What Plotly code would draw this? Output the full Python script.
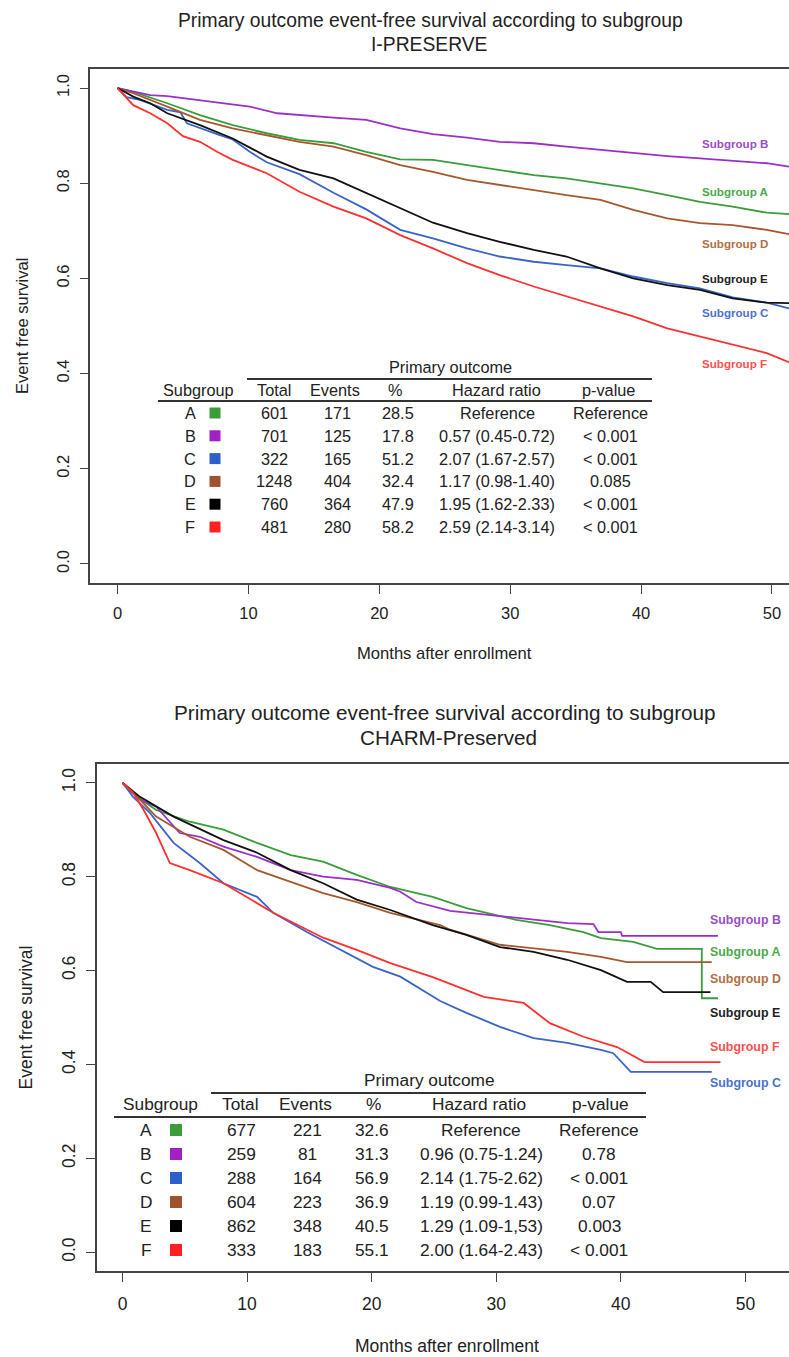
import plotly.graph_objects as go

W, H = 789, 1357

# ---------------- Data: I-PRESERVE (top panel) ----------------
ip_a_t = [0, 1.2, 3.8, 6.3, 8.8, 11.4, 13.9, 16.5, 19.0, 21.6, 24.1, 26.7, 29.2, 31.8, 34.3, 36.9, 39.4, 42.0, 44.5, 47.0, 49.6, 51.3]
ip_a_s = [1.0, 0.992, 0.968, 0.943, 0.922, 0.905, 0.891, 0.884, 0.866, 0.850, 0.849, 0.838, 0.828, 0.817, 0.810, 0.800, 0.789, 0.775, 0.761, 0.751, 0.738, 0.735]
ip_b_t = [0, 2.5, 3.8, 7.6, 10.1, 12.2, 13.9, 16.5, 19.0, 21.6, 24.1, 26.7, 29.2, 31.8, 34.3, 36.9, 39.4, 42.0, 44.5, 47.0, 49.6, 51.3]
ip_b_s = [1.0, 0.985, 0.983, 0.969, 0.961, 0.947, 0.943, 0.938, 0.933, 0.915, 0.903, 0.896, 0.887, 0.884, 0.877, 0.870, 0.863, 0.857, 0.852, 0.847, 0.842, 0.835]
ip_c_t = [0, 0.7, 1.7, 3.8, 4.8, 5.3, 7.6, 8.8, 10.1, 11.4, 13.9, 16.5, 19.0, 21.6, 24.1, 26.7, 29.2, 31.8, 34.3, 36.9, 39.4, 42.0, 44.5, 47.0, 49.6, 51.3]
ip_c_s = [1.0, 0.981, 0.975, 0.954, 0.949, 0.926, 0.903, 0.892, 0.866, 0.844, 0.819, 0.780, 0.745, 0.702, 0.684, 0.663, 0.646, 0.635, 0.628, 0.621, 0.604, 0.590, 0.579, 0.560, 0.549, 0.537]
ip_d_t = [0, 1.2, 3.8, 6.3, 8.8, 11.4, 13.9, 16.5, 19.0, 21.6, 24.1, 26.7, 29.2, 31.8, 34.3, 36.9, 39.4, 42.0, 44.5, 47.0, 49.6, 51.3]
ip_d_s = [1.0, 0.989, 0.961, 0.933, 0.915, 0.901, 0.887, 0.877, 0.859, 0.838, 0.824, 0.807, 0.796, 0.786, 0.775, 0.765, 0.744, 0.726, 0.716, 0.712, 0.702, 0.693]
ip_e_t = [0, 1.2, 2.5, 3.8, 6.3, 8.8, 11.4, 13.9, 16.5, 19.0, 21.6, 24.1, 26.7, 29.2, 31.8, 34.3, 36.9, 39.4, 42.0, 44.5, 47.0, 49.6, 51.3]
ip_e_s = [1.0, 0.982, 0.968, 0.947, 0.922, 0.894, 0.856, 0.828, 0.810, 0.779, 0.747, 0.717, 0.695, 0.677, 0.660, 0.646, 0.621, 0.600, 0.586, 0.576, 0.558, 0.549, 0.548]
ip_f_t = [0, 1.2, 2.5, 3.8, 5.0, 6.3, 7.6, 8.8, 11.4, 13.9, 16.5, 19.0, 21.6, 24.1, 26.7, 29.2, 31.8, 34.3, 36.9, 39.4, 42.0, 44.5, 47.0, 49.6, 51.3]
ip_f_s = [1.0, 0.964, 0.947, 0.926, 0.899, 0.887, 0.866, 0.849, 0.821, 0.782, 0.751, 0.726, 0.691, 0.663, 0.632, 0.607, 0.583, 0.562, 0.541, 0.520, 0.495, 0.478, 0.460, 0.443, 0.424]

# ---------------- Data: CHARM-Preserved (bottom panel) ----------------
ch_a_t = [0, 1.4, 2.7, 5.4, 8.1, 10.8, 13.5, 16.1, 18.8, 21.5, 23.6, 24.9, 27.6, 31.6, 34.3, 37.0, 38.4, 41.0, 42.9, 46.5, 46.5, 47.8]
ch_a_s = [1.0, 0.966, 0.942, 0.917, 0.900, 0.872, 0.846, 0.832, 0.804, 0.778, 0.765, 0.757, 0.733, 0.708, 0.697, 0.682, 0.669, 0.661, 0.646, 0.646, 0.541, 0.541]
ch_b_t = [0, 1.4, 2.7, 4.6, 6.2, 8.1, 10.8, 13.5, 16.1, 18.8, 21.5, 22.3, 23.6, 26.3, 30.3, 33.0, 35.7, 37.8, 38.2, 40.0, 40.1, 47.8]
ch_b_s = [1.0, 0.964, 0.949, 0.893, 0.885, 0.864, 0.842, 0.814, 0.800, 0.793, 0.776, 0.768, 0.746, 0.727, 0.716, 0.708, 0.701, 0.699, 0.682, 0.682, 0.674, 0.674]
ch_c_t = [0, 0.85, 2.2, 4.1, 6.2, 8.1, 10.8, 12.1, 14.8, 17.5, 20.1, 22.3, 25.5, 27.6, 30.3, 33.0, 35.7, 38.4, 39.4, 40.8, 47.3]
ch_c_s = [1.0, 0.970, 0.936, 0.872, 0.829, 0.786, 0.757, 0.723, 0.682, 0.644, 0.608, 0.587, 0.535, 0.510, 0.480, 0.456, 0.446, 0.431, 0.424, 0.384, 0.384]
ch_d_t = [0, 1.4, 2.7, 5.4, 8.1, 10.8, 13.5, 16.1, 18.8, 21.5, 25.5, 26.3, 30.3, 33.0, 35.7, 38.4, 40.5, 47.3]
ch_d_s = [1.0, 0.964, 0.928, 0.885, 0.857, 0.814, 0.789, 0.765, 0.746, 0.723, 0.697, 0.687, 0.655, 0.648, 0.640, 0.629, 0.618, 0.618]
ch_e_t = [0, 1.4, 4.1, 8.1, 10.8, 13.5, 16.1, 18.8, 21.5, 24.9, 27.6, 30.3, 33.0, 35.7, 38.4, 40.5, 42.4, 43.4, 47.2]
ch_e_s = [1.0, 0.970, 0.928, 0.878, 0.851, 0.814, 0.786, 0.751, 0.729, 0.697, 0.676, 0.650, 0.640, 0.623, 0.601, 0.576, 0.576, 0.554, 0.554]
ch_f_t = [0, 0.85, 1.7, 2.7, 3.8, 5.4, 8.1, 9.4, 12.1, 16.1, 18.8, 21.5, 24.9, 29.0, 32.2, 34.3, 37.0, 39.7, 41.9, 48.0]
ch_f_s = [1.0, 0.979, 0.942, 0.893, 0.829, 0.814, 0.786, 0.765, 0.723, 0.670, 0.644, 0.616, 0.586, 0.544, 0.531, 0.488, 0.459, 0.437, 0.405, 0.405]

# ---------------- Table data ----------------
subgroups = ["A", "B", "C", "D", "E", "F"]
col_headers = ["Subgroup", "Total", "Events", "%", "Hazard ratio", "p-value"]
ip_total = ["601", "701", "322", "1248", "760", "481"]
ip_events = ["171", "125", "165", "404", "364", "280"]
ip_pct = ["28.5", "17.8", "51.2", "32.4", "47.9", "58.2"]
ip_hr = ["Reference", "0.57 (0.45-0.72)", "2.07 (1.67-2.57)", "1.17 (0.98-1.40)", "1.95 (1.62-2.33)", "2.59 (2.14-3.14)"]
ip_p = ["Reference", "< 0.001", "< 0.001", "0.085", "< 0.001", "< 0.001"]
ch_total = ["677", "259", "288", "604", "862", "333"]
ch_events = ["221", "81", "164", "223", "348", "183"]
ch_pct = ["32.6", "31.3", "56.9", "36.9", "40.5", "55.1"]
ch_hr = ["Reference", "0.96 (0.75-1.24)", "2.14 (1.75-2.62)", "1.19 (0.99-1.43)", "1.29 (1.09-1,53)", "2.00 (1.64-2.43)"]
ch_p = ["Reference", "0.78", "< 0.001", "0.07", "0.003", "< 0.001"]

x_ticks = [0, 10, 20, 30, 40, 50]
y_ticks = [0.0, 0.2, 0.4, 0.6, 0.8, 1.0]
y_tick_text = ["0.0", "0.2", "0.4", "0.6", "0.8", "1.0"]

# ---------------- Styles ----------------
curve_col = {"A": "#3a9d3a", "B": "#9b30c8", "C": "#3a64c8", "D": "#a5582e", "E": "#111111", "F": "#ff3030"}
label_col = {"A": "#4caa4c", "B": "#9b4fc4", "C": "#4a72d0", "D": "#b07045", "E": "#222222", "F": "#ff5050"}
key_col = {"A": "#3a9d3a", "B": "#a020c0", "C": "#2d5fc8", "D": "#a0522d", "E": "#000000", "F": "#ff2020"}
FONT = "Liberation Sans, Arial, Helvetica, sans-serif"
TXT = "#222222"
AX = "#444444"


def px(x):
    return x / W


def py(y):
    return 1 - y / H


fig = go.Figure()

top_series = [("A", ip_a_t, ip_a_s), ("B", ip_b_t, ip_b_s), ("C", ip_c_t, ip_c_s),
              ("D", ip_d_t, ip_d_s), ("E", ip_e_t, ip_e_s), ("F", ip_f_t, ip_f_s)]
bot_series = [("A", ch_a_t, ch_a_s), ("B", ch_b_t, ch_b_s), ("C", ch_c_t, ch_c_s),
              ("D", ch_d_t, ch_d_s), ("E", ch_e_t, ch_e_s), ("F", ch_f_t, ch_f_s)]

for g, t, s in top_series:
    fig.add_trace(go.Scatter(x=t, y=s, mode="lines", xaxis="x", yaxis="y",
                             line=dict(color=curve_col[g], width=1.8), hoverinfo="skip"))
for g, t, s in bot_series:
    fig.add_trace(go.Scatter(x=t, y=s, mode="lines", xaxis="x2", yaxis="y2",
                             line=dict(color=curve_col[g], width=1.8), hoverinfo="skip"))

# Panel geometry (pixels)
top_box = dict(l=90.3, t=69, b=583)
bot_box = dict(l=96.6, t=764, b=1271)


def xaxis_style(domain_l, rng, fsize, standoff):
    return dict(domain=[px(domain_l), 1], range=rng, tickvals=x_ticks, ticks="outside", ticklen=9,
                tickwidth=1.3, tickcolor=AX, showline=True, linecolor=AX, linewidth=1.6, mirror=True,
                showgrid=False, zeroline=False, tickfont=dict(size=fsize, color=TXT, family=FONT),
                ticklabelstandoff=standoff, fixedrange=True)


def yaxis_style(top, bottom, fsize):
    return dict(domain=[py(bottom), py(top)], range=[-0.04, 1.04], tickvals=y_ticks, ticktext=y_tick_text,
                tickangle=-90, ticks="outside", ticklen=9, tickwidth=1.3, tickcolor=AX, showline=True,
                linecolor=AX, linewidth=1.6, mirror=False, showgrid=False, zeroline=False,
                tickfont=dict(size=fsize, color=TXT, family=FONT), ticklabelstandoff=4, fixedrange=True)


fig.update_layout(
    width=W, height=H, margin=dict(l=0, r=0, t=0, b=0),
    paper_bgcolor="white", plot_bgcolor="rgba(0,0,0,0)", showlegend=False,
    font=dict(family=FONT, color=TXT),
    xaxis=dict(anchor="y", **xaxis_style(top_box["l"], [-2.08, 51.3], 16.5, 5)),
    yaxis=dict(anchor="x", **yaxis_style(top_box["t"], top_box["b"], 16.5)),
    xaxis2=dict(anchor="y2", **xaxis_style(bot_box["l"], [-2.08, 53.5], 17.5, 7)),
    yaxis2=dict(anchor="x2", **yaxis_style(bot_box["t"], bot_box["b"], 17.5)),
)

ann = []
shapes = []


def text(x, y, s, size, color=TXT, xanchor="center", bold=False, angle=0):
    ann.append(dict(x=px(x), y=py(y), xref="paper", yref="paper", text=("<b>%s</b>" % s) if bold else s,
                    showarrow=False, xanchor=xanchor, yanchor="middle", textangle=angle,
                    font=dict(size=size, color=color, family=FONT)))


def hline(x0, x1, y, w=2.0):
    shapes.append(dict(type="line", xref="paper", yref="paper", x0=px(x0), x1=px(x1), y0=py(y), y1=py(y),
                       line=dict(color="#333333", width=w)))


def square(cx, cy, size, color):
    shapes.append(dict(type="rect", xref="paper", yref="paper", x0=px(cx - size / 2), x1=px(cx + size / 2),
                       y0=py(cy + size / 2), y1=py(cy - size / 2), line=dict(width=0), fillcolor=color))


# Titles
text(430, 20, "Primary outcome event-free survival according to subgroup", 19.3)
text(429, 44, "I-PRESERVE", 19.3)
text(445, 712, "Primary outcome event-free survival according to subgroup", 20.7)
text(448, 737, "CHARM-Preserved", 20.7)

# Axis titles
text(444, 653, "Months after enrollment", 16.6)
text(22, (top_box["t"] + top_box["b"]) / 2, "Event free survival", 16.6, angle=-90)
text(447, 1346, "Months after enrollment", 17.5)
text(25, (bot_box["t"] + bot_box["b"]) / 2, "Event free survival", 17.5, angle=-90)

# Curve end labels
top_lab_y = {"B": 143, "A": 191, "D": 243, "E": 278, "C": 313, "F": 363}
for g, yy in top_lab_y.items():
    text(700, yy, "Subgroup " + g, 11.6, color=label_col[g], xanchor="left", bold=True)
bot_lab_y = {"B": 920, "A": 952, "D": 979, "E": 1013, "F": 1047, "C": 1083}
for g, yy in bot_lab_y.items():
    text(708, yy, "Subgroup " + g, 12.4, color=label_col[g], xanchor="left", bold=True)


def table(cfg, total, events, pct, hr, pv):
    fs = cfg["fs"]
    text(cfg["po_x"], cfg["po_y"], "Primary outcome", fs)
    hline(cfg["l1"][0], cfg["l1"][1], cfg["l1_y"])
    for h, hx in zip(col_headers, cfg["hx"]):
        text(hx, cfg["h_y"], h, fs)
    hline(cfg["l2"][0], cfg["l2"][1], cfg["l2_y"])
    for i, g in enumerate(subgroups):
        yy = cfg["r0"] + i * cfg["dr"]
        text(cfg["letter_x"], yy, g, fs)
        square(cfg["sq_x"], yy, cfg["sq"], key_col[g])
        for val, vx in zip([total[i], events[i], pct[i], hr[i], pv[i]], cfg["vx"]):
            text(vx, yy, val, fs)


table(dict(fs=16.3, po_x=450, po_y=367, l1=(247, 652), l1_y=379, hx=[199, 274, 335, 395, 496, 608], h_y=390,
           l2=(158, 652), l2_y=401, r0=413, dr=22.8, letter_x=190, sq_x=215, sq=11,
           vx=[274, 337, 398, 497, 610]),
      ip_total, ip_events, ip_pct, ip_hr, ip_p)
table(dict(fs=17.3, po_x=429, po_y=1080, l1=(211, 646), l1_y=1093, hx=[160, 240, 305, 373, 479, 600], h_y=1104,
           l2=(114, 646), l2_y=1117, r0=1130, dr=24.0, letter_x=146, sq_x=176, sq=12,
           vx=[242, 307, 372, 481, 599]),
      ch_total, ch_events, ch_pct, ch_hr, ch_p)

fig.update_layout(annotations=ann, shapes=shapes)
fig.write_html("out.html", config={"displayModeBar": False},
               post_script="document.body.style.margin='0px';document.body.style.overflow='hidden';")
